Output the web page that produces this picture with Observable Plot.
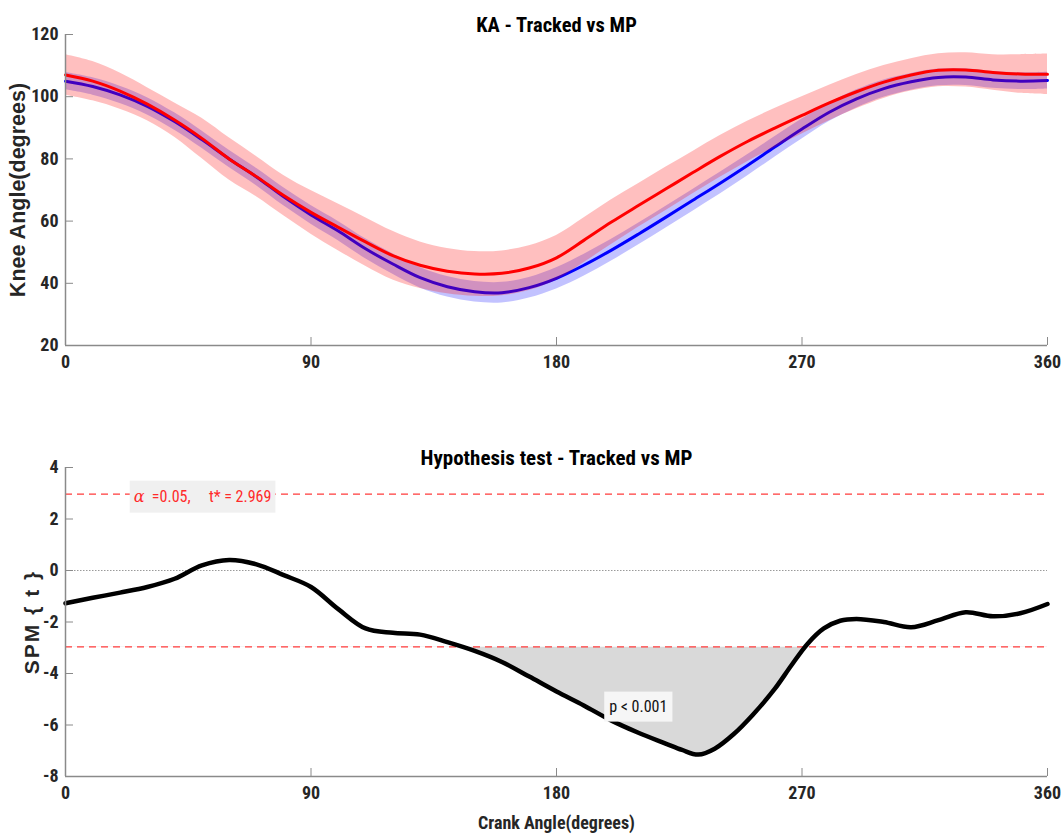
<!DOCTYPE html>
<html><head><meta charset="utf-8">
<script src="https://cdn.jsdelivr.net/npm/d3@7"></script>
<script src="https://cdn.jsdelivr.net/npm/@observablehq/plot@0.6"></script>
<style>
body{margin:0;background:#fff;}
#chart{width:1063px;height:838px;}
#chart svg{display:block;}
svg text{white-space:pre;}
</style></head><body><div id="chart"></div>
<script>
// ---- data ----
const angles = [0,10,20,30,40,50,60,70,80,90,100,110,120,130,140,150,160,170,180,190,200,210,220,230,240,250,260,270,280,290,300,310,320,330,340,350,360];
const trackedMean = [107.0,105.0,101.8,97.6,92.5,86.6,80.0,74.3,68.2,62.8,58.0,53.3,48.9,45.8,43.9,43.0,43.2,44.9,48.2,53.8,59.6,65.0,70.3,75.6,80.8,85.6,89.9,94.0,98.0,101.6,104.7,107.0,108.5,108.6,107.8,107.3,107.2];
const trackedSD = [6.5,6.3,5.8,5.3,5.5,6.5,6.8,6.5,6.5,7.0,7.5,7.8,7.8,7.5,7.3,7.2,7.2,7.2,7.2,7.2,7.2,7.0,7.0,6.8,6.7,6.5,6.3,6.0,5.7,5.5,5.3,5.2,5.3,5.5,5.7,6.2,6.5];
const mpMean = [105.0,103.3,100.6,96.9,92.0,86.2,80.0,74.2,67.8,62.0,56.8,51.1,46.2,41.8,38.9,37.3,37.0,38.6,41.6,45.8,50.6,55.8,61.2,66.7,72.2,77.9,83.8,89.6,95.0,99.3,102.6,104.8,106.2,106.3,105.4,105.0,105.2];
const mpSD = [2.8,2.8,2.8,2.8,2.8,2.8,2.8,2.8,2.9,3.0,3.1,3.2,3.3,3.3,3.3,3.3,3.3,3.3,3.4,3.5,3.5,3.5,3.5,3.5,3.5,3.4,3.3,3.2,3.0,2.9,2.8,2.7,2.7,2.7,2.7,2.7,2.7];

const spmAngles = [0,10,20,30,40,50,60,70,80,90,100,110,120,130,140,150,160,170,180,190,200,210,220,226,232,238,245,252,260,266,272,278,284,290,300,310,320,330,340,350,360];
const spmT = [-1.27,-1.06,-0.86,-0.64,-0.32,0.2,0.41,0.24,-0.18,-0.64,-1.5,-2.25,-2.42,-2.49,-2.78,-3.12,-3.55,-4.12,-4.7,-5.24,-5.82,-6.3,-6.72,-6.97,-7.15,-6.92,-6.35,-5.6,-4.6,-3.7,-2.85,-2.25,-1.95,-1.88,-2.0,-2.2,-1.93,-1.62,-1.78,-1.66,-1.3];

const tCritical = 2.969;
const alphaLevel = 0.05;
const pLabel = "p < 0.001";
const xTicks = [0,90,180,270,360];
const kaTicks = [20,40,60,80,100,120];
const spmTicks = [-8,-6,-4,-2,0,2,4];
const xDomain = [0,360];
const kaDomain = [20,120];
const spmDomain = [-8,4];
// annotation anchors (data units)
const alphaLabelAt = {x: 25, y: tCritical};
const pLabelAt = {x: 210, y: -5.3};

// ---- styles ----
const narrow = "'Liberation Sans Narrow','Arial Narrow','Roboto Condensed',sans-serif";
const wide = "'Liberation Sans',Arial,sans-serif";
const axisGray = "#8a8a8a";
const textDark = "#262626";
const curve = "catmull-rom";
const fmt = d => String(d);

const kaRows = angles.map((a,i)=>({a, tm: trackedMean[i], ts: trackedSD[i], mm: mpMean[i], ms: mpSD[i]}));
const spmRows = spmAngles.map((a,i)=>({a, t: spmT[i]}));

function axes(yTicks, yDomain) {
  return [
    Plot.ruleY([yDomain[0]], {stroke: axisGray, strokeWidth: 1.5}),
    Plot.ruleX([xDomain[0]], {stroke: axisGray, strokeWidth: 1.5}),
    Plot.axisX(xTicks, {tickSize: 0, tickPadding: 10, tickFormat: fmt, fontSize: 18, fontWeight: "bold", fill: textDark, label: null, fontFamily: narrow}),
    Plot.axisX(xTicks, {tickSize: 8, dy: -8, tickFormat: () => "", stroke: axisGray, label: null}),
    Plot.axisY(yTicks, {tickSize: 0, tickPadding: 7, tickFormat: fmt, fontSize: 18, fontWeight: "bold", fill: textDark, label: null, fontFamily: narrow}),
    Plot.axisY(yTicks, {tickSize: 8, dx: 8, tickFormat: () => "", stroke: axisGray, label: null})
  ];
}

const topPlot = Plot.plot({
  width: 1063, height: 390,
  marginLeft: 65, marginRight: 16, marginTop: 34, marginBottom: 45,
  x: {domain: xDomain},
  y: {domain: kaDomain},
  style: {background: "white", fontFamily: narrow, overflow: "visible"},
  marks: [
    Plot.areaY(kaRows, {x: "a", y1: d => d.mm - d.ms, y2: d => d.mm + d.ms, fill: "#0000ff", fillOpacity: 0.24, curve}),
    Plot.lineY(kaRows, {x: "a", y: "mm", stroke: "#0000ff", strokeWidth: 3, curve}),
    Plot.areaY(kaRows, {x: "a", y1: d => d.tm - d.ts, y2: d => d.tm + d.ts, fill: "#ff0000", fillOpacity: 0.25, curve}),
    Plot.lineY(kaRows, {x: "a", y: "tm", stroke: "#ff0000", strokeWidth: 3, curve}),
    ...axes(kaTicks, kaDomain),
    Plot.text(["KA - Tracked vs MP"], {frameAnchor: "top", dy: -17, fontSize: 20.5, fontWeight: "bold", fill: "#000", fontFamily: narrow}),
    Plot.text(["Knee Angle(degrees)"], {frameAnchor: "left", textAnchor: "middle", dx: -47, rotate: -90, fontSize: 21.5, fontWeight: "bold", fill: textDark, fontFamily: wide})
  ]
});

const botPlot = Plot.plot({
  width: 1063, height: 448,
  marginLeft: 65, marginRight: 16, marginTop: 77, marginBottom: 62,
  x: {domain: xDomain},
  y: {domain: spmDomain},
  style: {background: "white", fontFamily: narrow, overflow: "visible"},
  marks: [
    Plot.areaY(spmRows, {x: "a", y1: () => -tCritical, y2: "t", fill: "#d9d9d9", curve}),
    Plot.rect([0], {x1: () => xDomain[0], x2: () => xDomain[1], y1: () => -tCritical, y2: () => spmDomain[1], fill: "white"}),
    Plot.ruleY([0], {stroke: "#9a9a9a", strokeWidth: 1, strokeDasharray: "1.5,1.5"}),
    Plot.ruleY([tCritical, -tCritical], {stroke: "#ff3b3b", strokeWidth: 1.3, strokeDasharray: "7,5"}),
    Plot.lineY(spmRows, {x: "a", y: "t", stroke: "#000", strokeWidth: 4.5, curve}),
    ...axes(spmTicks, spmDomain),
    Plot.text([`α  =${alphaLevel},     t* = ${tCritical}`], {x: () => alphaLabelAt.x, y: () => alphaLabelAt.y, textAnchor: "start", dy: 3, fontSize: 16, fill: "#ff2a2a", fontFamily: narrow}),
    Plot.text([pLabel], {x: () => pLabelAt.x, y: () => pLabelAt.y, fontSize: 16, fill: "#111", fontFamily: narrow}),
    Plot.text(["Hypothesis test - Tracked vs MP"], {frameAnchor: "top", dy: -17, fontSize: 21, fontWeight: "bold", fill: "#000", fontFamily: narrow}),
    Plot.text(["SPM { t }"], {frameAnchor: "left", textAnchor: "middle", dx: -33, rotate: -90, fontSize: 21, fontWeight: "bold", fill: textDark, fontFamily: wide, style: "letter-spacing:1.5px"}),
    Plot.text(["Crank Angle(degrees)"], {frameAnchor: "bottom", dy: 52, fontSize: 18, fontWeight: "bold", fill: textDark, fontFamily: narrow})
  ]
});

const root = document.getElementById("chart");
root.appendChild(topPlot);
root.appendChild(botPlot);

// boxes behind annotation labels; spacing for the SPM label
for (const t of botPlot.querySelectorAll("text")) {
  if (t.textContent === "SPM { t }") t.setAttribute("letter-spacing", "2");
}
function boxText(svg, match, fill, padX, h, serifAlpha) {
  for (const t of svg.querySelectorAll("text")) {
    if (t.textContent === match) {
      if (serifAlpha) {
        const rest = t.textContent.slice(1);
        t.textContent = "";
        const a = document.createElementNS("http://www.w3.org/2000/svg", "tspan");
        a.setAttribute("font-family", "'DejaVu Serif',serif");
        a.setAttribute("font-style", "italic");
        a.textContent = "α";
        const r = document.createElementNS("http://www.w3.org/2000/svg", "tspan");
        r.textContent = rest;
        t.appendChild(a); t.appendChild(r);
      }
      const b = t.getBBox();
      const rect = document.createElementNS("http://www.w3.org/2000/svg", "rect");
      rect.setAttribute("x", b.x - padX);
      rect.setAttribute("y", b.y + b.height / 2 - h / 2);
      rect.setAttribute("width", b.width + 2 * padX);
      rect.setAttribute("height", h);
      rect.setAttribute("fill", fill);
      const tr = t.getAttribute("transform");
      if (tr) rect.setAttribute("transform", tr);
      t.parentNode.insertBefore(rect, t);
    }
  }
}
boxText(botPlot, `α  =${alphaLevel},     t* = ${tCritical}`, "#f0f0f0", 4, 32, true);
boxText(botPlot, pLabel, "#f6f6f6", 5, 30, false);
</script></body></html>
